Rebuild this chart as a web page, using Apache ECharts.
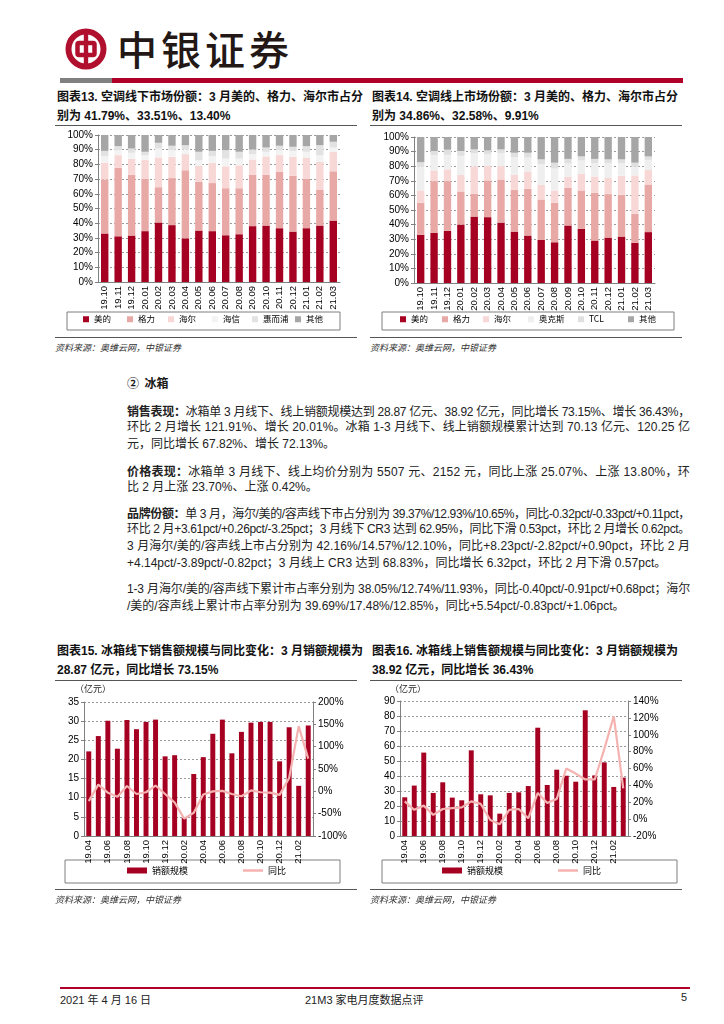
<!DOCTYPE html>
<html><head><meta charset="utf-8">
<script src="https://cdn.jsdelivr.net/npm/echarts/dist/echarts.min.js"></script>
<style>
body{margin:0;width:724px;height:1024px;position:relative;background:#fff;overflow:hidden;
 font-family:"Liberation Sans Narrow","Liberation Sans","Noto Sans CJK SC",sans-serif;color:#1a1a1a}
.abs{position:absolute}
.ttl{font-family:"Liberation Sans","Noto Sans CJK SC",sans-serif;font-weight:bold;font-size:12px;line-height:19px;color:#111;white-space:nowrap}
.rule{position:absolute;height:1px;background:#555}
.src{position:absolute;font-family:"Noto Sans CJK SC",sans-serif;font-style:italic;font-size:9px;color:#333;white-space:nowrap}
.ln{position:absolute;left:127px;width:563px;height:17px;line-height:17px;font-size:12px;white-space:nowrap;
 font-family:"Liberation Sans Narrow","Liberation Sans","Noto Sans CJK SC",sans-serif;color:#222}
.ln b{font-family:"Noto Sans CJK SC",sans-serif;font-weight:bold}
.foot{position:absolute;top:991px;font-size:11px;font-family:"Liberation Sans Narrow","Liberation Sans","Noto Sans CJK SC",sans-serif;color:#222;white-space:nowrap}
</style></head><body>

<!-- header -->
<div class="abs" style="left:65px;top:28px;width:42px;height:42px">
<svg width="42" height="42" viewBox="0 0 42 42">
 <circle cx="21" cy="21" r="17.5" fill="none" stroke="#b0102e" stroke-width="6"/>
 <rect x="12.5" y="15" width="17" height="12" rx="1.5" fill="none" stroke="#b0102e" stroke-width="4.5"/>
 <rect x="18.8" y="2" width="4.4" height="38" fill="#b0102e"/>
</svg></div>
<div class="abs" style="left:117px;top:24px;font-family:'Noto Sans CJK SC';font-size:40px;font-weight:500;letter-spacing:4px;color:#231815;line-height:48px">中银证券</div>
<div class="abs" style="left:60px;top:78px;width:52px;height:5px;background:#808080"></div>
<div class="abs" style="left:112px;top:78px;width:571px;height:5px;background:#b0002a"></div>

<!-- chart titles top -->
<div class="abs ttl" style="left:57px;top:88px">图表13. 空调线下市场份额：3 月美的、格力、海尔市占分<br>别为 41.79%、33.51%、13.40%</div>
<div class="rule" style="left:55px;top:125px;width:302px"></div>
<div class="abs ttl" style="left:372px;top:88px">图表14. 空调线上市场份额：3 月美的、格力、海尔市占分<br>别为 34.86%、32.58%、9.91%</div>
<div class="rule" style="left:370px;top:125px;width:312px"></div>

<div id="c13" class="abs" style="left:50px;top:128px;width:305px;height:208px"></div>
<div id="c14" class="abs" style="left:365px;top:128px;width:320px;height:208px"></div>

<div class="rule" style="left:55px;top:337px;width:302px"></div>
<div class="rule" style="left:370px;top:337px;width:312px"></div>
<div class="src" style="left:55px;top:341px">资料来源：奥维云网，中银证券</div>
<div class="src" style="left:370px;top:341px">资料来源：奥维云网，中银证券</div>

<!-- text section -->
<div class="abs" style="left:127px;top:374px;font-size:12px;line-height:17px;font-weight:bold;font-family:'Noto Sans CJK SC'">②&nbsp;&nbsp;冰箱</div>
<div id="paras"></div>

<!-- bottom charts -->
<div class="abs ttl" style="left:57px;top:642px">图表15. 冰箱线下销售额规模与同比变化：3 月销额规模为<br>28.87 亿元，同比增长 73.15%</div>
<div class="rule" style="left:55px;top:680px;width:302px"></div>
<div class="abs ttl" style="left:372px;top:642px">图表16. 冰箱线上销售额规模与同比变化：3 月销额规模为<br>38.92 亿元，同比增长 36.43%</div>
<div class="rule" style="left:370px;top:680px;width:312px"></div>

<div id="c15" class="abs" style="left:50px;top:680px;width:305px;height:210px"></div>
<div id="c16" class="abs" style="left:365px;top:680px;width:320px;height:210px"></div>

<div class="rule" style="left:55px;top:889px;width:302px"></div>
<div class="rule" style="left:370px;top:889px;width:312px"></div>
<div class="src" style="left:55px;top:893px">资料来源：奥维云网，中银证券</div>
<div class="src" style="left:370px;top:893px">资料来源：奥维云网，中银证券</div>

<!-- footer -->
<div class="abs" style="left:60px;top:987px;width:630px;height:1.5px;background:#b0002a"></div>
<div class="foot" style="left:60px">2021 年 4 月 16 日</div>
<div class="foot" style="left:305px">21M3 家电月度数据点评</div>
<div class="foot" style="left:681px">5</div>

<script>
// ---------- data ----------
const months13 = ['19.10','19.11','19.12','20.01','20.02','20.03','20.04','20.05','20.06','20.07','20.08','20.09','20.10','20.11','20.12','21.01','21.02','21.03'];
const offNames = ['美的','格力','海尔','海信','惠而浦','其他'];
const offMidea     = [33.0,31.1,31.6,34.6,40.5,38.7,29.7,35.0,34.6,31.8,32.5,38.0,38.4,36.6,34.3,36.6,38.4,41.79];
const offGree      = [36.8,46.7,41.4,35.7,24.0,32.0,46.3,33.2,32.7,32.0,31.3,35.0,34.6,38.4,38.0,33.7,24.5,33.51];
const offHaier     = [11.4,8.5,10.8,12.8,20.2,14.4,11.0,10.8,13.7,14.9,15.6,10.3,12.4,11.3,12.8,14.1,18.8,13.40];
const offHisense   = [4.4,3.4,4.1,3.2,6.1,4.6,3.2,3.8,4.6,5.3,4.6,3.7,3.2,3.4,4.1,4.2,4.6,2.8];
const offWhirlpool = [3.6,2.7,2.9,2.3,3.9,3.0,2.9,5.8,3.6,5.7,4.6,3.2,2.9,3.0,2.8,3.8,6.8,3.9];
const offOther     = [10.8,7.6,9.2,11.4,5.3,7.3,6.9,11.4,10.8,10.3,11.4,9.8,8.5,7.3,8.0,7.6,6.9,4.6];

const onNames = ['美的','格力','海尔','奥克斯','TCL','其他'];
const onMidea = [33.0,34.3,35.7,40.0,45.5,45.1,41.4,35.2,32.5,29.5,27.9,39.4,37.1,29.1,31.1,31.8,27.5,34.86];
const onGree  = [21.9,35.5,34.1,22.7,15.6,25.2,29.5,28.6,32.0,27.7,27.0,25.8,26.3,32.7,29.8,28.6,19.9,32.58];
const onHaier = [8.5,6.9,8.0,11.4,18.8,9.8,9.2,10.3,11.9,10.1,8.5,7.6,11.4,11.2,11.0,13.1,26.3,9.91];
const onAux   = [16,11,10,13,9,8,9,12,9.5,14,15,9,9,9,10,8.5,6,7];
const onTcl   = [3.4,2.7,3.5,3.3,2.6,2.7,2.4,3.1,3.3,3.4,4.0,3.2,2.9,3.0,2.8,2.7,2.7,2.35];
const onOther = [17.2,9.6,8.7,9.6,8.5,9.2,8.5,10.8,10.8,15.3,17.6,15,13.3,15,15.3,15.3,17.6,13.3];

const months15 = ['19.04','19.05','19.06','19.07','19.08','19.09','19.10','19.11','19.12','20.01','20.02','20.03','20.04','20.05','20.06','20.07','20.08','20.09','20.10','20.11','20.12','21.01','21.02','21.03'];
const fridgeOffSales = [22.1,26.1,30.1,22.8,30.3,27.9,29.8,30.4,20.8,21.1,4.7,16.2,20.6,26.7,30.4,21.6,27.2,29.6,29.8,29.8,19.5,28.4,13.1,28.87];
const fridgeOffYoY   = [-22,15,-3,-12,12,-6,-2,13,-6,-25,-61,-48,-7,0,1,-6,-11,2,-2,-3,-8,30,146,73.15];
const fridgeOnSales  = [25.8,33.6,55.6,28.7,35.8,25.6,23.8,57.1,27.8,27.1,14.9,28.7,29.1,33.3,72.2,34.0,44.2,40.2,36.2,83.8,40.4,49.1,32.7,38.92];
const fridgeOnYoY    = [21,11,16,5,12,13,14,21,18,-1,-6,11,12,1,31,19,24,60,54,47,47,83,122,36.43];
const seriesNames15 = ['销额规模','同比'];

// ---------- styles ----------
const RED='#a50021', LINE='#f4b3b1';
const axisCol='#808080';
const lblFont={color:'#000',fontSize:10,fontFamily:'Liberation Sans'};
const gridLine={show:true,lineStyle:{color:'#9a9a9a',type:[2,2],width:1}};
const legText={fontSize:8.5,color:'#000',fontFamily:'Noto Sans CJK SC'};

function boxRect(x,y,w,h){
  return {type:'rect',silent:true,shape:{x:x,y:y,width:w,height:h},style:{fill:'none',stroke:'#7f7f7f',lineWidth:1}};
}

function stacked(el, names, colors, arrays, grid, iconX, box){
  const c=echarts.init(document.getElementById(el),null,{renderer:'canvas'});
  c.setOption({
    animation:false,
    grid:grid,
    graphic:[boxRect(box[0],box[1],box[2],box[3])],
    xAxis:{type:'category',data:months13,
      axisLine:{lineStyle:{color:axisCol}},axisTick:{length:3,lineStyle:{color:axisCol}},
      axisLabel:Object.assign({},lblFont,{rotate:90,interval:0,margin:4,fontSize:9.5})},
    yAxis:{type:'value',min:0,max:100,interval:10,
      axisLine:{show:true,lineStyle:{color:axisCol}},axisTick:{show:true,length:3,lineStyle:{color:axisCol}},
      axisLabel:Object.assign({},lblFont,{formatter:'{value}%',margin:5}),splitLine:gridLine},
    legend:names.map((n,i)=>({left:iconX[i],top:box[1]+3,padding:0,icon:'rect',itemWidth:6,itemHeight:6,
      itemGap:0,textStyle:legText,data:[n]})),
    series:names.map((n,i)=>({name:n,type:'bar',stack:'s',barWidth:'55%',
      itemStyle:{color:colors[i]},data:arrays[i]}))
  });
}
stacked('c13',offNames,[RED,'#e8a8a6','#f8d8d6','#f3f3f3','#e2e2e2','#a6a6a6'],
  [offMidea,offGree,offHaier,offHisense,offWhirlpool,offOther],
  {left:48,top:7,right:15,bottom:54},[33,77,118,162,202,245],[17,184,273,18]);
stacked('c14',onNames,[RED,'#e8a8a6','#f8d8d6','#efefef','#e0e0e0','#a6a6a6'],
  [onMidea,onGree,onHaier,onAux,onTcl,onOther],
  {left:49,top:9,right:30,bottom:53},[35,77,118,163,213,263],[17,184,292,18]);

function combo(el, sales, yoy, leftMax, leftInt, rMin, rMax, rInt, grid, box, nameLeft){
  const c=echarts.init(document.getElementById(el));
  c.setOption({
    animation:false,
    grid:grid,
    graphic:[
      {type:'text',left:nameLeft,top:4,style:{text:'（亿元）',fontSize:9,fill:'#222',fontFamily:'Noto Sans CJK SC'}},
      boxRect(box[0],box[1],box[2],box[3])
    ],
    xAxis:{type:'category',data:months15,
      axisLine:{lineStyle:{color:axisCol}},axisTick:{length:3,lineStyle:{color:axisCol}},
      axisLabel:Object.assign({},lblFont,{rotate:90,interval:1,margin:4,fontSize:9.5})},
    yAxis:[
      {type:'value',min:0,max:leftMax,interval:leftInt,
       axisLine:{show:true,lineStyle:{color:axisCol}},axisTick:{show:true,length:3,lineStyle:{color:axisCol}},
       axisLabel:Object.assign({},lblFont,{margin:5}),splitLine:gridLine},
      {type:'value',min:rMin,max:rMax,interval:rInt,position:'right',
       axisLine:{show:true,lineStyle:{color:axisCol}},axisTick:{show:true,length:3,lineStyle:{color:axisCol}},
       axisLabel:Object.assign({},lblFont,{formatter:'{value}%',margin:5}),splitLine:{show:false}}
    ],
    legend:[
      {left:77,top:box[1]+6,padding:0,icon:'rect',itemWidth:20,itemHeight:6,textStyle:Object.assign({},legText,{fontSize:9}),data:[seriesNames15[0]]},
      {left:193,top:box[1]+6,padding:0,icon:'rect',itemWidth:20,itemHeight:2.5,textStyle:Object.assign({},legText,{fontSize:9}),data:[seriesNames15[1]]}
    ],
    series:[
      {name:seriesNames15[0],type:'bar',barWidth:'52%',itemStyle:{color:RED},data:sales},
      {name:seriesNames15[1],type:'line',yAxisIndex:1,symbol:'none',lineStyle:{color:LINE,width:2.2},itemStyle:{color:LINE},data:yoy}
    ]
  });
}
combo('c15',fridgeOffSales,fridgeOffYoY,35,5,-100,200,50,{left:34,top:22,right:42,bottom:54},[15,180,275,23],25);
combo('c16',fridgeOnSales,fridgeOnYoY,90,10,-20,140,20,{left:35,top:21,right:57,bottom:54},[17,180,295,23],25);

// ---------- paragraphs ----------
const paraLines = [
 [410,'<b>销售表现：</b>冰箱单 3 月线下、线上销额规模达到 28.87 亿元、38.92 亿元，同比增长 73.15%、增长 36.43%，',1],
 [427,'环比 2 月增长 121.91%、增长 20.01%。冰箱 1-3 月线下、线上销额规模累计达到 70.13 亿元、120.25 亿',1],
 [444,'元，同比增长 67.82%、增长 72.13%。',0],
 [470,'<b>价格表现：</b>冰箱单 3 月线下、线上均价分别为 5507 元、2152 元，同比上涨 25.07%、上涨 13.80%，环',1],
 [487,'比 2 月上涨 23.70%、上涨 0.42%。',0],
 [512,'<b>品牌份额：</b>单 3 月，海尔/美的/容声线下市占分别为 39.37%/12.93%/10.65%，同比-0.32pct/-0.33pct/+0.11pct，',1],
 [529,'环比 2 月+3.61pct/+0.26pct/-3.25pct；3 月线下 CR3 达到 62.95%，同比下滑 0.53pct，环比 2 月增长 0.62pct。',1],
 [546,'3 月海尔/美的/容声线上市占分别为 42.16%/14.57%/12.10%，同比+8.23pct/-2.82pct/+0.90pct，环比 2 月',1],
 [563,'+4.14pct/-3.89pct/-0.82pct；3 月线上 CR3 达到 68.83%，同比增长 6.32pct，环比 2 月下滑 0.57pct。',0],
 [589,'1-3 月海尔/美的/容声线下累计市占率分别为 38.05%/12.74%/11.93%，同比-0.40pct/-0.91pct/+0.68pct；海尔',1],
 [606,'/美的/容声线上累计市占率分别为 39.69%/17.48%/12.85%，同比+5.54pct/-0.83pct/+1.06pct。',0]
];
const host=document.getElementById('paras');
paraLines.forEach(([y,html,full])=>{
  const d=document.createElement('div'); d.className='ln'; d.style.top=(y-8.5)+'px';
  const s=document.createElement('span'); s.innerHTML=html; d.appendChild(s); host.appendChild(d);
  const w=s.getBoundingClientRect().width; const n=s.textContent.length;
  if(full || w>563){ s.style.letterSpacing=((563-w)/n)+'px'; }
});
</script>
</body></html>
